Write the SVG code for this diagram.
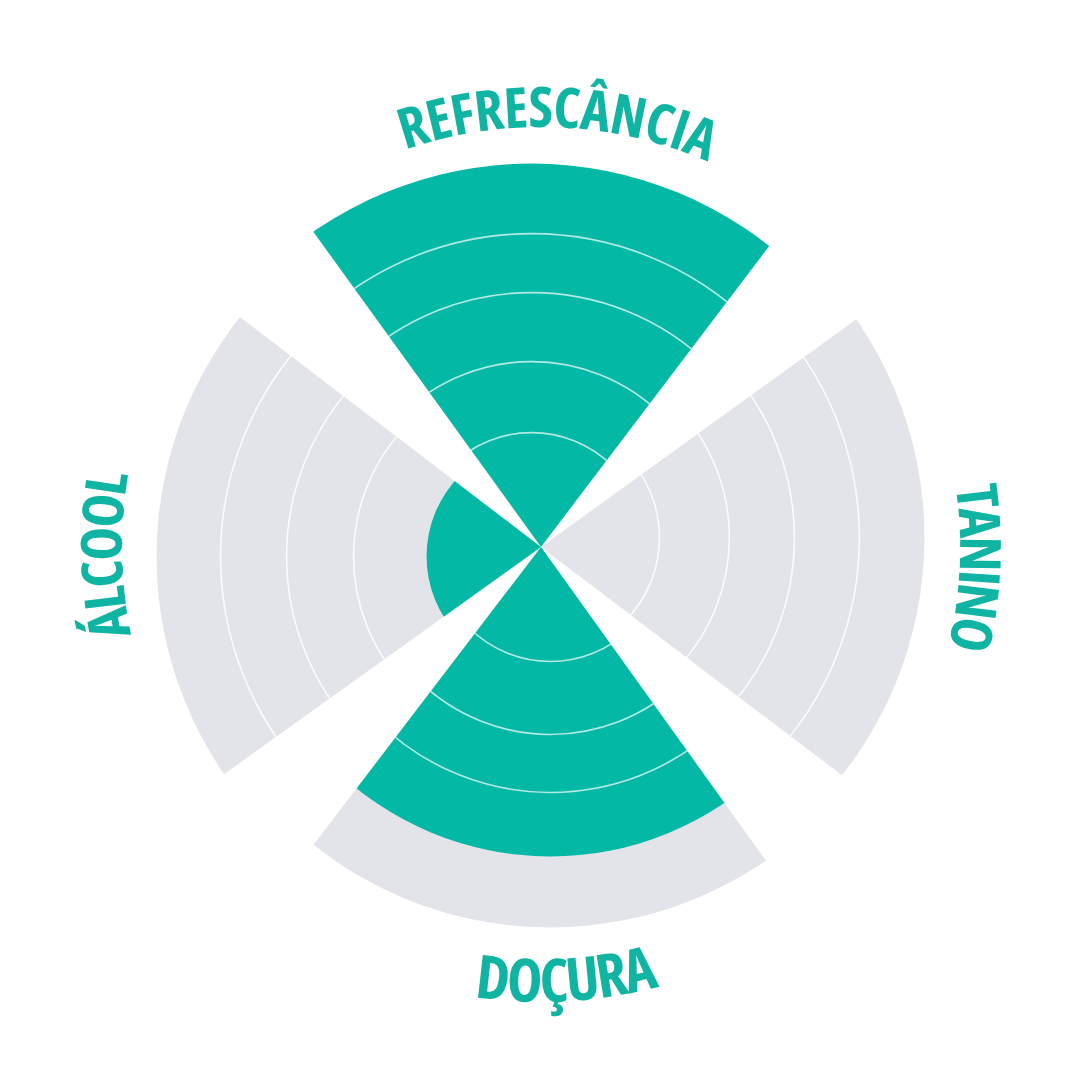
<svg xmlns="http://www.w3.org/2000/svg" width="1080" height="1080" viewBox="0 0 1080 1080">
<style>
.teal{fill:#04b8a6}
.gray{fill:#e3e4e9}
.ring{fill:none;stroke:#ffffff;stroke-width:1.6}
.rt{stroke-opacity:0.7}
.rg{stroke-opacity:0.85}
.lbl{font-family:"Open Sans","Liberation Sans Narrow","DejaVu Sans Condensed",sans-serif;font-weight:700;font-stretch:75%;fill:#0fb4a3}
</style>
<defs>
<clipPath id="wedge"><polygon points="541,547 189.7,60.6 903.6,68.9"/></clipPath>
<path id="pTop" d="M 177.3 337 A 420 420 0 0 1 904.7 337"/>
<path id="pRight" d="M 750.5 184.1 A 419 419 0 0 1 750.5 909.9"/>
<path id="pLeft" d="M 331.5 909.9 A 419 419 0 0 1 331.5 184.1"/>
<path id="pBottom" d="M 147 774.5 A 455 455 0 0 0 935 774.5"/>
</defs>
<rect width="1080" height="1080" fill="#ffffff"/>

<g id="refrescancia">
  <g clip-path="url(#wedge)">
    <circle class="teal" cx="531.6" cy="547.6" r="384"/>
    <circle class="ring rt" cx="531.6" cy="547.6" r="314"/>
    <circle class="ring rt" cx="531.6" cy="547.6" r="255"/>
    <circle class="ring rt" cx="531.6" cy="547.6" r="186"/>
    <circle class="ring rt" cx="531.6" cy="547.6" r="115"/>
  </g>
  <text class="lbl" font-size="56" letter-spacing="-0.5"><textPath href="#pTop" startOffset="456" text-anchor="middle">REFRESCÂNCIA</textPath></text>
</g>

<g id="tanino">
  <g transform="rotate(90 541 547)">
    <g clip-path="url(#wedge)">
      <circle class="gray" cx="531.6" cy="547.6" r="384"/>
      <circle class="ring rg" cx="531.6" cy="547.6" r="319"/>
      <circle class="ring rg" cx="531.6" cy="547.6" r="254"/>
      <circle class="ring rg" cx="531.6" cy="547.6" r="189"/>
      <circle class="ring rg" cx="531.6" cy="547.6" r="119"/>
    </g>
  </g>
  <text class="lbl" font-size="57" letter-spacing="-2.5"><textPath href="#pRight" startOffset="458" text-anchor="middle">TANINO</textPath></text>
</g>

<g id="docura">
  <g transform="rotate(180.2 541 547)">
    <g clip-path="url(#wedge)">
      <circle class="gray" cx="531.6" cy="547.6" r="381"/>
      <circle class="teal" cx="531.6" cy="547.6" r="310"/>
      <circle class="ring rt" cx="531.6" cy="547.6" r="246"/>
      <circle class="ring rt" cx="531.6" cy="547.6" r="188"/>
      <circle class="ring rt" cx="531.6" cy="547.6" r="115"/>
    </g>
  </g>
  <text class="lbl" font-size="60" letter-spacing="-1.5"><textPath href="#pBottom" startOffset="502" text-anchor="middle">DOÇURA</textPath></text>
</g>

<g id="alcool">
  <g transform="rotate(270.2 541 547)">
    <g clip-path="url(#wedge)">
      <circle class="gray" cx="531.6" cy="547.6" r="385"/>
      <circle class="ring rg" cx="531.6" cy="547.6" r="321"/>
      <circle class="ring rg" cx="531.6" cy="547.6" r="255"/>
      <circle class="ring rg" cx="531.6" cy="547.6" r="188"/>
      <circle class="teal" cx="531.6" cy="547.6" r="115"/>
    </g>
  </g>
  <text class="lbl" font-size="57" letter-spacing="-2"><textPath href="#pLeft" startOffset="430" text-anchor="middle">ÁLCOOL</textPath></text>
</g>
</svg>
